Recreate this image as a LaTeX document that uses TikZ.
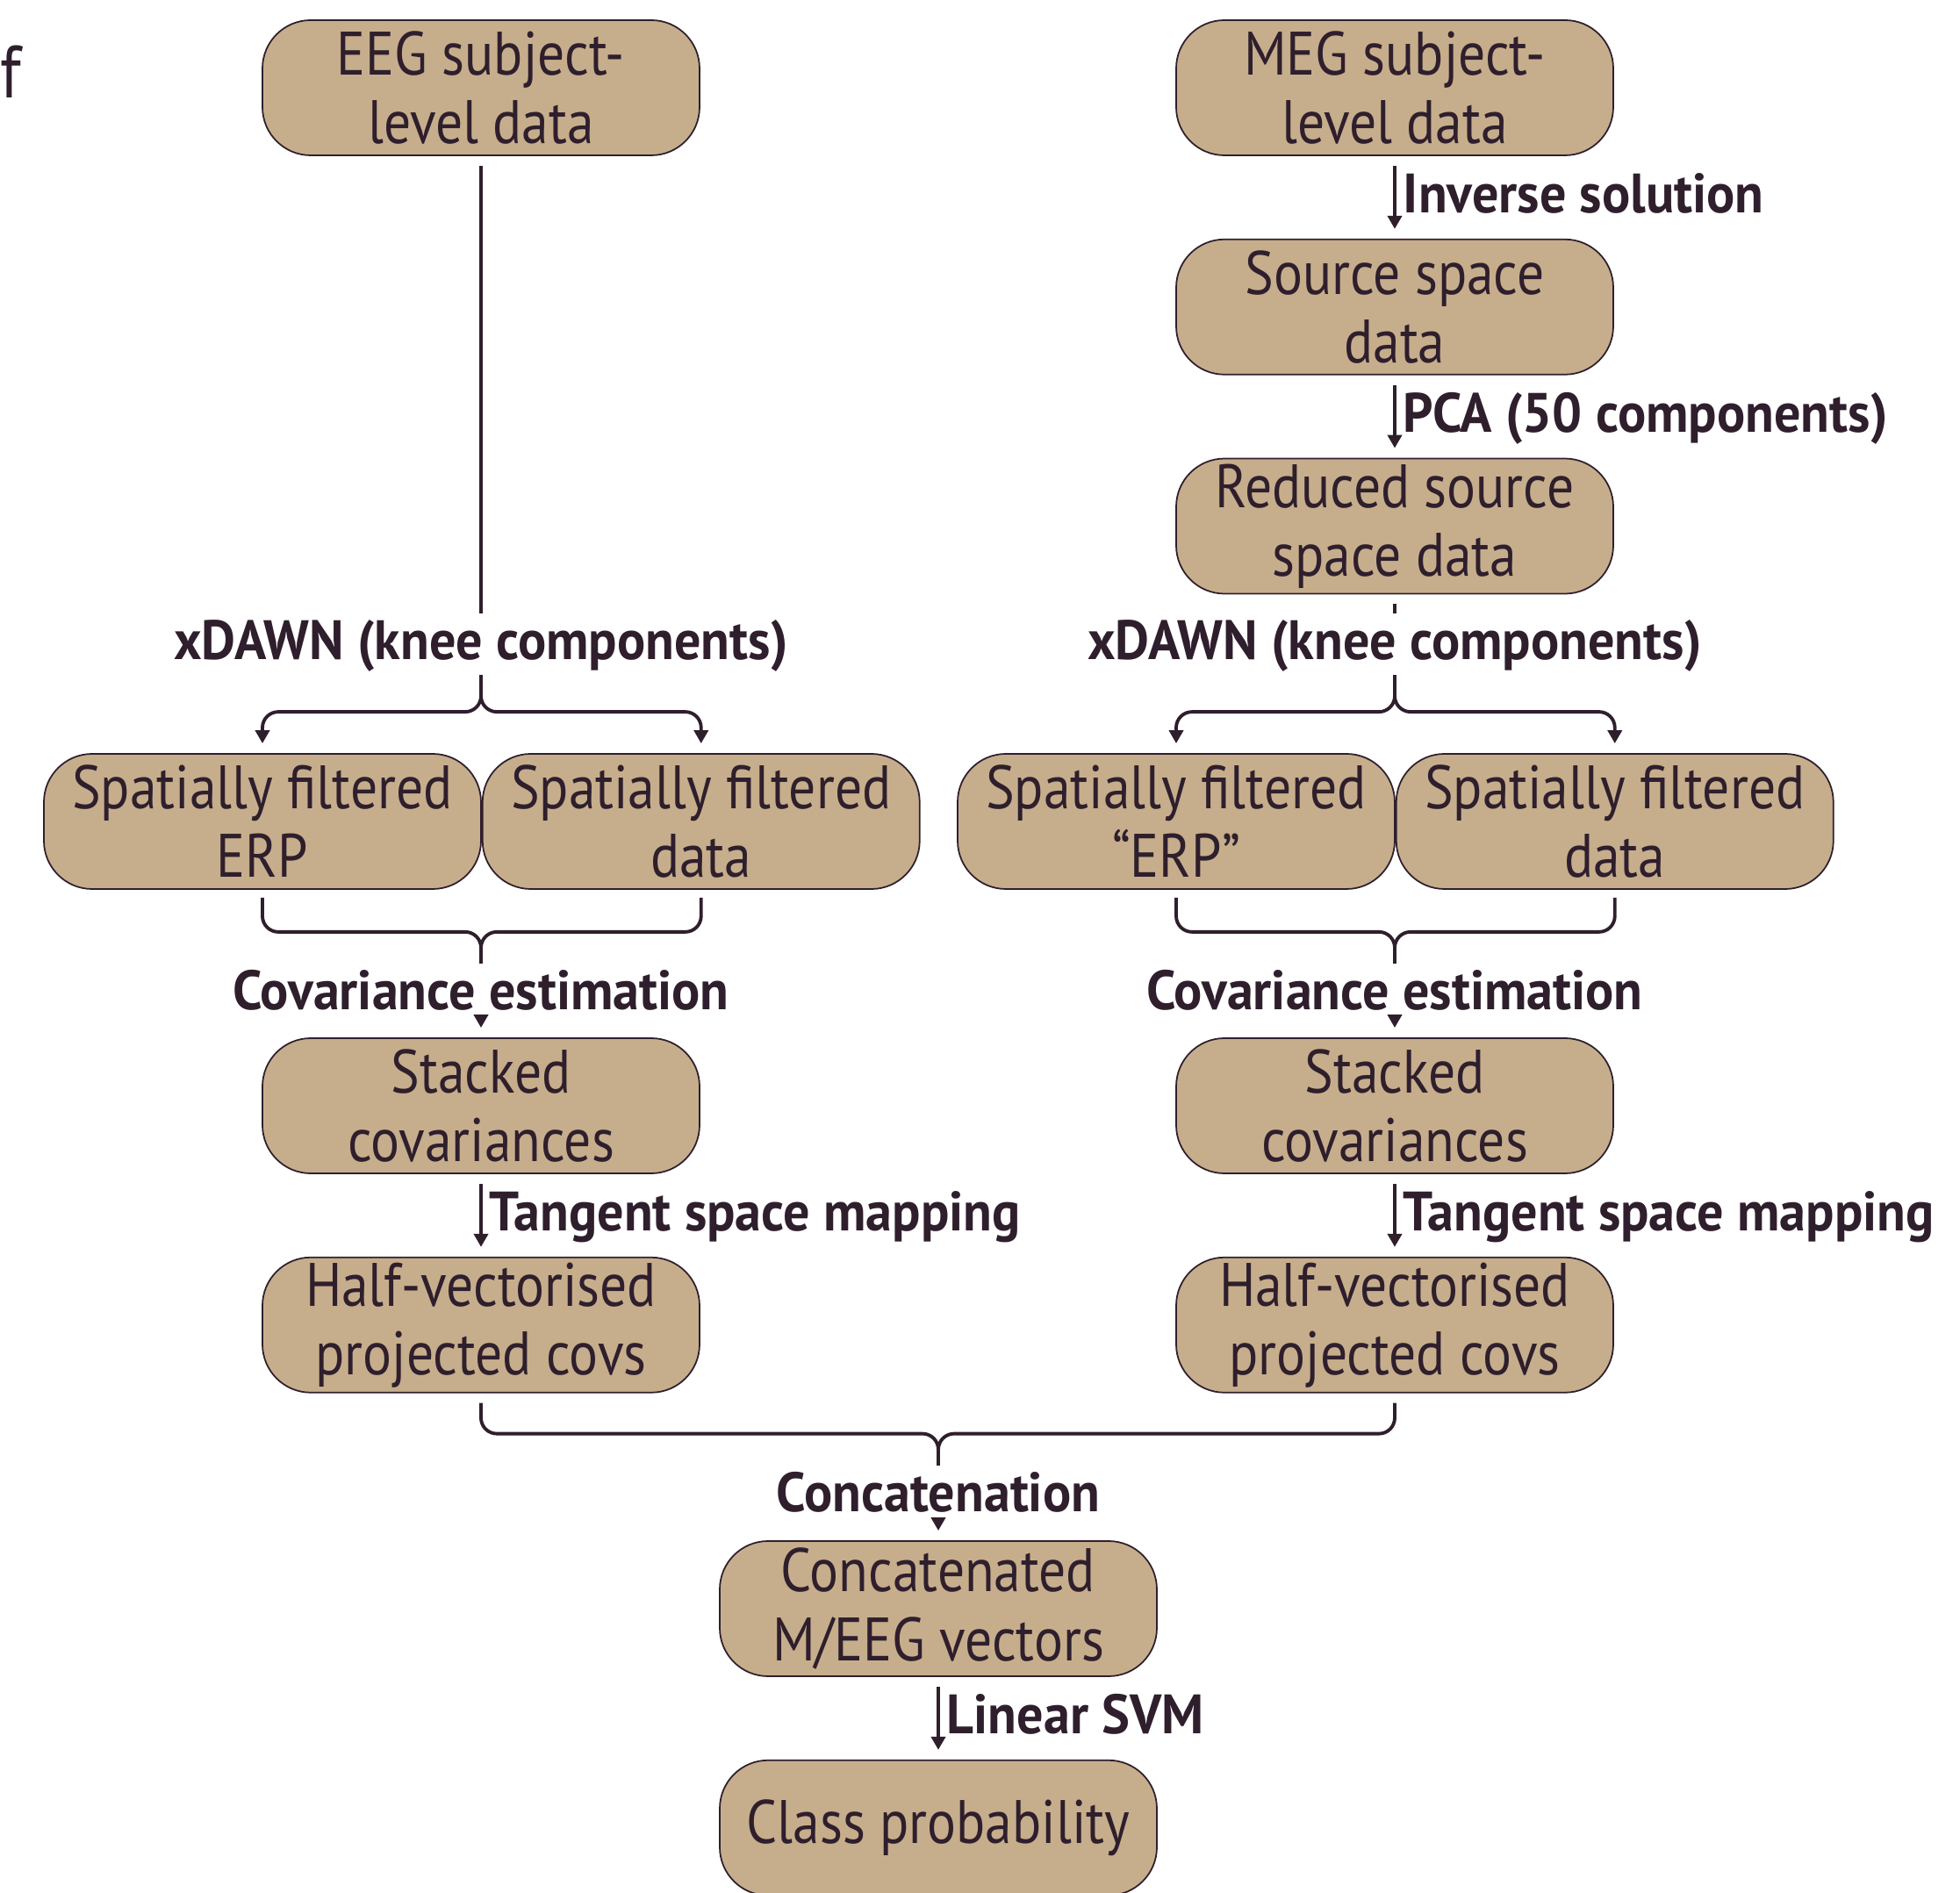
\documentclass[tikz,border=0pt]{standalone}
\usepackage{fontspec}
\setmainfont{PT Sans}[FakeStretch=0.88]
\newfontfamily\labelfam{PT Sans}[FakeStretch=0.95]
\usetikzlibrary{positioning, arrows.meta}
\definecolor{ink}{HTML}{2F1F2D}
\definecolor{boxtan}{HTML}{C6AE8C}
\newcommand{\boxfont}{\fontsize{19.9}{22.2}\selectfont}
\newcommand{\labelfont}{\labelfam\fontsize{18}{20}\selectfont\bfseries}
\tikzset{
	box/.style={draw=ink, line width=0.5pt, fill=boxtan, rounded corners=0.55cm, minimum width=4.98cm, minimum height=1.54cm, align=center, inner sep=0.05cm, text=ink, font=\boxfont}, % the rounded data boxes
	steplabel/.style={text=ink, font=\labelfont, inner xsep=0.08cm, inner ysep=0.05cm, text height=0.47cm, text depth=0.12cm}, % processing step names
	link/.style={draw=ink, line width=1.1pt, rounded corners=0.18cm}, % plain connector
	arr/.style={link, -{Triangle[length=0.15cm, width=0.16cm]}, shorten >=0.11cm}, % connector with a tip
}

\begin{document}
\begin{tikzpicture}
	\useasboundingbox (0,0) rectangle (22.33,-21.57);
	\node[anchor=base west, inner sep=0, text=ink, font=\fontsize{24}{24}\selectfont] (panel_label) at (0,-1.12) {f};

	\node[box] (eeg_node) at (5.48,-1.00) {EEG subject-\\level data};
	\node[box] (meg_node) at (15.89,-1.00) {MEG subject-\\level data};
	\node[box, below=0.94cm of meg_node] (source_node) {Source space\\data};
	\node[box, below=0.94cm of source_node] (reduced_node) {Reduced source\\space data};

	\node[steplabel] (eeg_xdawn) at (5.48,-7.34) {xDAWN (knee components)};
	\node[steplabel] (meg_xdawn) at (15.89,-7.34) {xDAWN (knee components)};

	\node[box] (eeg_erp) at (2.99,-9.36) {Spatially filtered\\ERP};
	\node[box, right=0cm of eeg_erp] (eeg_data) {Spatially filtered\\data};
	\node[box] (meg_erp) at (13.40,-9.36) {Spatially filtered\\``ERP''};
	\node[box, right=0cm of meg_erp] (meg_data) {Spatially filtered\\data};

	\node[steplabel] (eeg_cov) at (5.48,-11.33) {Covariance estimation};
	\node[steplabel] (meg_cov) at (15.89,-11.33) {Covariance estimation};

	\node[box] (eeg_stack) at (5.48,-12.60) {Stacked\\covariances};
	\node[box, below=0.94cm of eeg_stack] (eeg_half) {Half-vectorised\\projected covs};
	\node[box] (meg_stack) at (15.89,-12.60) {Stacked\\covariances};
	\node[box, below=0.94cm of meg_stack] (meg_half) {Half-vectorised\\projected covs};

	\node[steplabel] (concat_label) at (10.69,-17.05) {Concatenation};
	\node[box] (concat_node) at (10.69,-18.33) {Concatenated\\M/EEG vectors};
	\node[box, below=0.94cm of concat_node] (prob_node) {Class probability};

	\draw[arr, shorten <=0.11cm] (meg_node) -- node[steplabel, right] {Inverse solution} (source_node);
	\draw[arr, shorten <=0.11cm] (source_node) -- node[steplabel, right] {PCA (50 components)} (reduced_node);
	\draw[link, shorten <=0.11cm] (eeg_node) -- (eeg_xdawn);
	\draw[link, shorten <=0.11cm] (reduced_node) -- (meg_xdawn);

	\draw[arr] (eeg_xdawn.south) |- ([yshift=0.47cm]eeg_erp.north) -- (eeg_erp.north);
	\draw[arr] (eeg_xdawn.south) |- ([yshift=0.47cm]eeg_data.north) -- (eeg_data.north);
	\draw[arr] (meg_xdawn.south) |- ([yshift=0.47cm]meg_erp.north) -- (meg_erp.north);
	\draw[arr] (meg_xdawn.south) |- ([yshift=0.47cm]meg_data.north) -- (meg_data.north);

	\draw[link, shorten <=0.09cm] (eeg_erp.south) -- ([yshift=-0.48cm]eeg_erp.south) -| (eeg_cov.north);
	\draw[link, shorten <=0.09cm] (eeg_data.south) -- ([yshift=-0.48cm]eeg_data.south) -| (eeg_cov.north);
	\draw[link, shorten <=0.09cm] (meg_erp.south) -- ([yshift=-0.48cm]meg_erp.south) -| (meg_cov.north);
	\draw[link, shorten <=0.09cm] (meg_data.south) -- ([yshift=-0.48cm]meg_data.south) -| (meg_cov.north);
	\draw[arr] (eeg_cov) -- (eeg_stack);
	\draw[arr] (meg_cov) -- (meg_stack);

	\draw[arr, shorten <=0.11cm] (eeg_stack) -- node[steplabel, right] {Tangent space mapping} (eeg_half);
	\draw[arr, shorten <=0.11cm] (meg_stack) -- node[steplabel, right] {Tangent space mapping} (meg_half);

	\draw[link, shorten <=0.11cm] (eeg_half.south) -- ([yshift=-0.46cm]eeg_half.south) -| (concat_label.north);
	\draw[link, shorten <=0.11cm] (meg_half.south) -- ([yshift=-0.46cm]meg_half.south) -| (concat_label.north);
	\draw[arr] (concat_label) -- (concat_node);
	\draw[arr, shorten <=0.11cm] (concat_node) -- node[steplabel, right] {Linear SVM} (prob_node);
\end{tikzpicture}
\end{document}
